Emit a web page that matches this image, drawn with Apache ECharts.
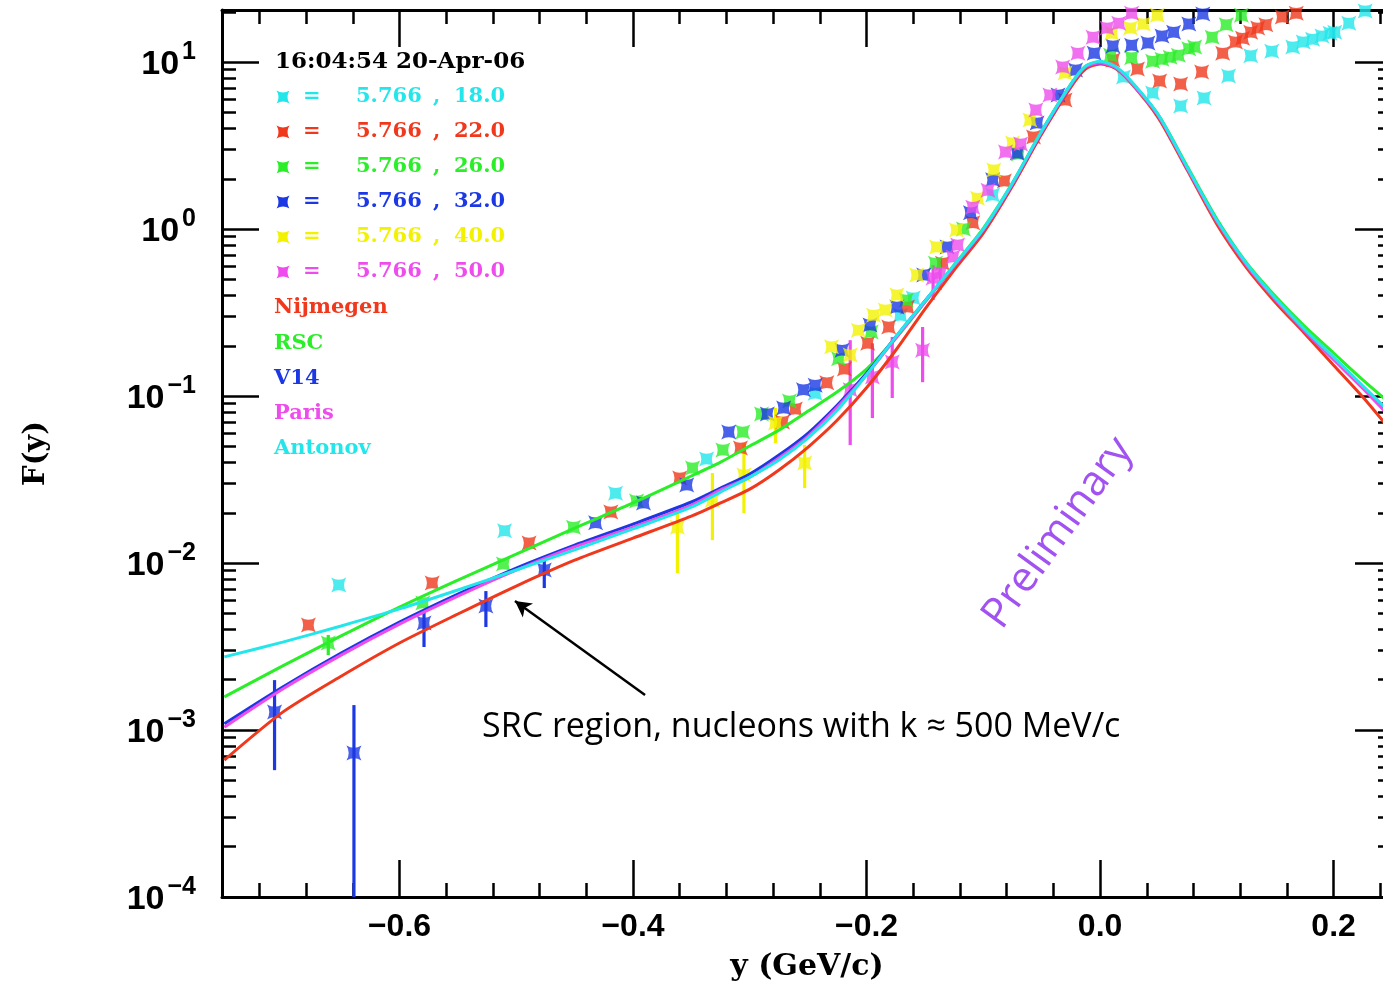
<!DOCTYPE html>
<html><head><meta charset="utf-8">
<script src="https://cdn.jsdelivr.net/npm/echarts@6/dist/echarts.min.js"></script>
<style>html,body{margin:0;padding:0;overflow:hidden;background:#fff}#c{width:1392px;height:989px}</style>
</head><body><div id="c"></div><script>
// ---------- axis ranges / ticks ----------
const xMin = -0.752, xMax = 0.25, yMin = 1e-4, yMax = 20.5;
const xMajorTicks = [-0.6, -0.4, -0.2, 0.0, 0.2];
const xMinorTicks = [-0.72,-0.68,-0.64,-0.56,-0.52,-0.48,-0.44,-0.36,-0.32,-0.28,-0.24,-0.16,-0.12,-0.08,-0.04,0.04,0.08,0.12,0.16,0.24];
const yMinorTicks = [];
for (let d = -4; d <= 1; d++) for (let k = 2; k <= 9; k++) { const v = k * Math.pow(10, d); if (v <= yMax) yMinorTicks.push(v); }

// ---------- theory curves ----------
const curveX = [-0.75,-0.70,-0.65,-0.60,-0.55,-0.50,-0.45,-0.40,-0.35,-0.325,-0.30,-0.275,-0.25,-0.225,-0.20,-0.175,-0.15,-0.125,-0.10,-0.075,-0.05,-0.025,-0.0125,0,0.0125,0.025,0.05,0.075,0.10,0.125,0.15,0.175,0.20,0.225,0.25];
const nijmegen = [6.61e-4,1.28e-3,2.10e-3,3.32e-3,4.95e-3,7.28e-3,1.04e-2,1.41e-2,1.91e-2,2.29e-2,2.77e-2,3.61e-2,4.95e-2,7.18e-2,0.112,0.188,0.332,0.568,0.946,1.81,3.71,7.08,9.08,9.73,9.21,7.69,4.62,2.23,1.07,0.592,0.365,0.238,0.153,0.0986,0.0609];
const rsc      = [1.58e-3,2.42e-3,3.66e-3,5.45e-3,7.91e-3,1.13e-2,1.62e-2,2.29e-2,3.32e-2,4.02e-2,5.02e-2,6.25e-2,8.13e-2,0.106,0.145,0.222,0.365,0.609,1.01,1.89,3.86,7.38,9.46,10.0,9.33,7.80,4.81,2.35,1.15,0.634,0.397,0.262,0.181,0.125,0.0883];
const v14      = [1.09e-3,1.81e-3,2.89e-3,4.43e-3,6.52e-3,9.33e-3,1.28e-2,1.71e-2,2.32e-2,2.81e-2,3.41e-2,4.43e-2,6.0e-2,8.83e-2,0.137,0.226,0.371,0.600,0.986,1.86,3.81,7.28,9.33,9.86,9.33,7.80,4.75,2.29,1.12,0.617,0.381,0.248,0.167,0.112,0.0738];
const paris    = [1.04e-3,1.76e-3,2.81e-3,4.31e-3,6.34e-3,9.08e-3,1.25e-2,1.64e-2,2.22e-2,2.74e-2,3.27e-2,4.25e-2,5.76e-2,8.59e-2,0.134,0.222,0.365,0.600,0.986,1.86,3.81,7.28,9.33,9.86,9.30,7.75,4.74,2.28,1.11,0.612,0.378,0.246,0.165,0.111,0.073];
const antonov  = [2.74e-3,3.36e-3,4.20e-3,5.31e-3,6.89e-3,9.08e-3,1.20e-2,1.60e-2,2.16e-2,2.66e-2,3.27e-2,4.14e-2,5.61e-2,8.24e-2,0.134,0.226,0.371,0.609,1.0,1.89,3.86,7.38,9.46,10.1,9.46,7.91,4.81,2.32,1.13,0.626,0.386,0.252,0.171,0.115,0.078];

// ---------- data points [y (GeV/c), F(y)] ----------
const pts18 = [[-0.652,7.38e-3],[-0.510,1.56e-2],[-0.415,2.62e-2],[-0.337,4.20e-2],[-0.244,0.104],[-0.171,0.305],[-0.160,0.386],[-0.092,1.60],[0.020,8.13],[0.045,6.52],[0.069,5.45],[0.089,6.09],[0.110,8.24],[0.129,10.9],[0.147,11.6],[0.165,12.3],[0.174,13.2],[0.182,13.7],[0.190,14.3],[0.197,14.9],[0.201,15.1],[0.213,17.1],[0.227,20.2]];
const pts22 = [[-0.678,4.25e-3],[-0.572,7.59e-3],[-0.489,1.32e-2],[-0.419,2.02e-2],[-0.360,3.23e-2],[-0.308,4.89e-2],[-0.272,6.98e-2],[-0.261,8.36e-2],[-0.234,0.120],[-0.219,0.145],[-0.199,0.207],[-0.181,0.259],[-0.165,0.341],[-0.135,0.625],[-0.109,1.09],[-0.082,1.94],[-0.057,3.56],[-0.030,5.92],[0.011,10.3],[0.032,9.08],[0.051,7.69],[0.069,7.38],[0.087,8.71],[0.105,11.3],[0.116,13.2],[0.122,13.9],[0.129,15.1],[0.135,16.0],[0.142,16.7],[0.156,18.6],[0.168,19.6]];
const pts26 = [[-0.661,3.32e-3],[-0.580,5.76e-3],[-0.511,9.87e-3],[-0.451,1.64e-2],[-0.397,2.35e-2],[-0.349,3.71e-2],[-0.323,4.75e-2],[-0.306,6.09e-2],[-0.290,7.80e-2],[-0.266,9.33e-2],[-0.224,0.167],[-0.196,0.242],[-0.166,0.376],[-0.141,0.625],[-0.117,1.0],[-0.070,2.81],[0.009,11.0],[0.027,10.6],[0.045,10.1],[0.053,10.4],[0.060,10.7],[0.067,11.0],[0.076,12.0],[0.081,12.3],[0.096,14.1],[0.108,16.7],[0.121,19.1]];
const pts32 = [[-0.707,1.28e-3],[-0.639,7.28e-4],[-0.579,4.37e-3],[-0.526,5.53e-3],[-0.476,9.08e-3],[-0.432,1.74e-2],[-0.391,2.29e-2],[-0.354,2.93e-2],[-0.318,6.09e-2],[-0.285,7.80e-2],[-0.271,8.48e-2],[-0.254,0.109],[-0.244,0.116],[-0.221,0.188],[-0.197,0.266],[-0.174,0.341],[-0.151,0.531],[-0.131,0.780],[-0.111,1.25],[-0.092,1.97],[-0.071,2.85],[-0.054,4.31],[-0.036,6.34],[-0.021,8.96],[-0.005,11.3],[0.011,12.5],[0.027,12.6],[0.041,13.0],[0.053,14.3],[0.063,15.1],[0.076,16.9],[0.088,19.4]];
const pts40 = [[-0.362,1.64e-2],[-0.332,2.38e-2],[-0.305,3.37e-2],[-0.278,6.89e-2],[-0.253,3.97e-2],[-0.230,0.197],[-0.214,0.176],[-0.207,0.248],[-0.194,0.305],[-0.184,0.327],[-0.174,0.403],[-0.157,0.531],[-0.140,0.780],[-0.123,0.986],[-0.105,1.53],[-0.091,2.26],[-0.075,3.27],[-0.060,4.50],[-0.030,8.59],[0.010,14.9],[0.026,16.0],[0.037,16.9],[0.049,19.1]];
const pts50 = [[-0.214,0.109],[-0.195,0.130],[-0.178,0.160],[-0.152,0.188],[-0.143,0.509],[-0.137,0.545],[-0.126,0.680],[-0.122,0.802],[-0.109,1.35],[-0.096,1.71],[-0.081,2.89],[-0.068,3.23],[-0.055,5.16],[-0.043,6.34],[-0.032,9.33],[-0.019,11.3],[-0.006,14.1],[0.006,16.0],[0.016,17.1],[0.027,19.6]];

// error bars [x, low, high]
const err26 = [[-0.661,2.81e-3,3.71e-3]];
const err32 = [[-0.707,5.75e-4,1.99e-3],[-0.639,1e-4,1.41e-3],[-0.579,3.14e-3,5.23e-3],[-0.526,4.14e-3,6.79e-3],[-0.476,7.08e-3,1.07e-2]];
const err40 = [[-0.362,8.71e-3,2.02e-2],[-0.332,1.37e-2,3.46e-2],[-0.305,1.99e-2,5.23e-2],[-0.278,5.23e-2,8.48e-2],[-0.253,2.81e-2,5.09e-2]];
const err50 = [[-0.214,5.09e-2,0.216],[-0.195,7.38e-2,0.207],[-0.178,9.73e-2,0.226],[-0.152,0.121,0.259],[-0.143,0.376,0.609],[-0.137,0.431,0.670]];

// ---------- legend text ----------
const stamp = '16:04:54 20-Apr-06';
const beamE = ['5.766','5.766','5.766','5.766','5.766','5.766'];
const angles = ['18.0','22.0','26.0','32.0','40.0','50.0'];
const modelNames = ['Nijmegen','RSC','V14','Paris','Antonov'];
const annotation = 'SRC region, nucleons with k \u2248 500 MeV/c';
const arrowFrom = [-0.3897, 1.62e-3], arrowTo = [-0.5011, 5.92e-3];

// ---------- styling ----------
const COL = { cyan:'#22e6ea', red:'#f0381c', green:'#2aee28', blue:'#1b38e4', yellow:'#f2f200', magenta:'#ee4cec' };
const ptColors = [COL.cyan, COL.red, COL.green, COL.blue, COL.yellow, COL.magenta];
const ptSets = [pts18, pts22, pts26, pts32, pts40, pts50];
const modelColors = [COL.red, COL.green, COL.blue, COL.magenta, COL.cyan];
const modelData = [nijmegen, rsc, v14, paris, antonov];
const STAR = 'M0,0 Q5,3 10,0 Q7,5 10,10 Q5,7 0,10 Q3,5 0,0 Z';
const tickStyle = { color:'#000', width:2.5 };

function starPoly(cx, cy, s){
  const h = s / 2, k = 0.3 * s, pts = [];
  const corners = [[-h,-h],[h,-h],[h,h],[-h,h]];
  for (let i = 0; i < 4; i++) {
    const a = corners[i], b = corners[(i + 1) % 4];
    const mx = (a[0] + b[0]) / 2, my = (a[1] + b[1]) / 2;
    const c = [mx === 0 ? 0 : mx - Math.sign(mx) * k, my === 0 ? 0 : my - Math.sign(my) * k];
    for (let t = 0; t < 1; t += 0.125) {
      const u = 1 - t;
      pts.push([cx + u*u*a[0] + 2*u*t*c[0] + t*t*b[0], cy + u*u*a[1] + 2*u*t*c[1] + t*t*b[1]]);
    }
  }
  return pts;
}

function fmtX(v){ if (Math.abs(v) < 1e-9) return '0.0'; return v.toFixed(1).replace('-', '\u2212'); }
function fmtY(v){
  const e = Math.log10(v);
  if (Math.abs(e - Math.round(e)) > 1e-6) return '';
  const r = Math.round(e);
  return '{b|10}{s|' + (r < 0 ? '\u2212' + (-r) : r) + '}';
}

const chart = echarts.init(document.getElementById('c'), null, { renderer:'canvas' });

function xAx(pos, ticks, len, withLine, withLabel){
  const a = { type:'value', min:xMin, max:xMax, position:pos,
    axisLine:{ show:withLine, onZero:false, lineStyle:{ color:'#000', width:3 } },
    axisTick:{ show:true, inside:true, length:len, customValues:ticks, lineStyle:tickStyle },
    axisLabel:{ show:false }, splitLine:{ show:false } };
  if (withLabel) {
    a.axisLabel = { show:true, customValues:xMajorTicks, formatter:fmtX, margin:14,
      fontSize:32, fontWeight:'bold', fontFamily:'Liberation Sans', color:'#000' };
    a.name = 'y (GeV/c)'; a.nameLocation = 'middle'; a.nameGap = 55;
    a.nameTextStyle = { fontSize:30, fontWeight:'bold', fontFamily:'DejaVu Serif', color:'#000' };
  }
  return a;
}
function yAxLog(pos, withLabel){
  const a = { type:'log', logBase:10, min:yMin, max:yMax, position:pos,
    axisLine:{ show:true, onZero:false, lineStyle:{ color:'#000', width:3 } },
    axisTick:{ show:true, inside:true, length:37, lineStyle:tickStyle },
    minorTick:{ show:false }, axisLabel:{ show:false }, splitLine:{ show:false } };
  if (withLabel) {
    a.axisLabel = { show:true, formatter:fmtY, margin:26, showMaxLabel:false,
      rich:{ b:{ fontSize:34, fontFamily:'Liberation Sans', fontWeight:'bold', color:'#000', padding:[6,0,0,0] },
             s:{ fontSize:25, fontFamily:'Liberation Sans', fontWeight:'bold', color:'#000', padding:[0,0,20,3] } } };
    a.name = 'F(y)'; a.nameLocation = 'middle'; a.nameRotate = 90; a.nameGap = 171;
    a.nameTextStyle = { fontSize:29, fontWeight:'bold', fontFamily:'DejaVu Serif', color:'#000' };
  }
  return a;
}
function yAxMinor(pos){
  return { type:'value', min:-4, max:Math.log10(yMax), position:pos,
    axisLine:{ show:false, onZero:false }, axisTick:{ show:true, inside:true, length:14,
      customValues:yMinorTicks.map(v => Math.log10(v)), lineStyle:tickStyle },
    axisLabel:{ show:false }, splitLine:{ show:false } };
}

const series = [];
function errSeries(data, color){
  return { type:'custom', xAxisIndex:0, yAxisIndex:0, data:data, z:2, silent:true, clip:true,
    encode:{ x:0, y:[1,2] },
    renderItem:(params, api) => {
      const x = api.value(0);
      const p1 = api.coord([x, api.value(1)]), p2 = api.coord([x, api.value(2)]);
      return { type:'line', shape:{ x1:p1[0], y1:p1[1], x2:p2[0], y2:p2[1] }, style:{ stroke:color, lineWidth:3.2 } };
    } };
}
series.push(errSeries(err26, COL.green), errSeries(err32, COL.blue), errSeries(err40, COL.yellow), errSeries(err50, COL.magenta));
ptSets.forEach((d, i) => series.push({ type:'scatter', name:angles[i], data:d, symbol:'path://' + STAR, symbolSize:15,
  itemStyle:{ color:ptColors[i] }, z:3, silent:true }));
modelData.forEach((vals, i) => {
  const s = { type:'line', name:modelNames[i], data:curveX.map((x, j) => [x, vals[j]]), showSymbol:false, symbol:'none',
    smooth:0.25, lineStyle:{ color:modelColors[i], width:3 }, z:4, silent:true, clip:true };
  if (i === 0) {
    s.markLine = { silent:true, symbol:['none','arrow'], symbolSize:[13,16], animation:false,
      lineStyle:{ color:'#000', width:2.5, type:'solid' }, label:{ show:false },
      data:[[ { coord:arrowFrom }, { coord:arrowTo } ]] };
  }
  series.push(s);
});

// legend graphics
const g = [];
const F = 'bold 21px "DejaVu Serif"';
g.push({ type:'text', x:275, y:62, style:{ text:stamp, font:'bold 23px "DejaVu Serif"', fill:'#000', verticalAlign:'middle' } });
angles.forEach((a, i) => {
  const y = 97 + 35 * i, c = ptColors[i];
  g.push({ type:'polygon', shape:{ points:starPoly(283, y, 13) }, style:{ fill:c } });
  g.push({ type:'text', x:303, y:y, style:{ text:'=', font:F, fill:c, verticalAlign:'middle' } });
  g.push({ type:'text', x:356, y:y, style:{ text:beamE[i], font:F, fill:c, verticalAlign:'middle' } });
  g.push({ type:'text', x:433, y:y, style:{ text:',', font:F, fill:c, verticalAlign:'middle' } });
  g.push({ type:'text', x:454, y:y, style:{ text:a, font:F, fill:c, verticalAlign:'middle' } });
});
modelNames.forEach((n, i) => {
  g.push({ type:'text', x:274, y:308 + 35.2 * i, style:{ text:n, font:F, fill:modelColors[i], verticalAlign:'middle' } });
});
g.push({ type:'text', x:482, y:727, style:{ text:annotation, font:'34px "Open Sans"', fill:'#000', verticalAlign:'middle' } });
g.push({ type:'text', x:1058, y:533, rotation:54 * Math.PI / 180,
  style:{ text:'Preliminary', font:'42px "Open Sans"', fill:'#a152f0', align:'center', verticalAlign:'middle' } });

chart.setOption({
  animation:false,
  backgroundColor:'#fff',
  grid:{ left:222, top:10, right:0, bottom:92, containLabel:false, outerBoundsMode:'none' },
  xAxis:[ xAx('bottom', xMajorTicks, 37, true, true), xAx('bottom', xMinorTicks, 14, false, false),
          xAx('top', xMajorTicks, 37, true, false), xAx('top', xMinorTicks, 14, false, false) ],
  yAxis:[ yAxLog('left', true), yAxMinor('left'), yAxLog('right', false), yAxMinor('right') ],
  series:series,
  graphic:g
});
</script></body></html>
